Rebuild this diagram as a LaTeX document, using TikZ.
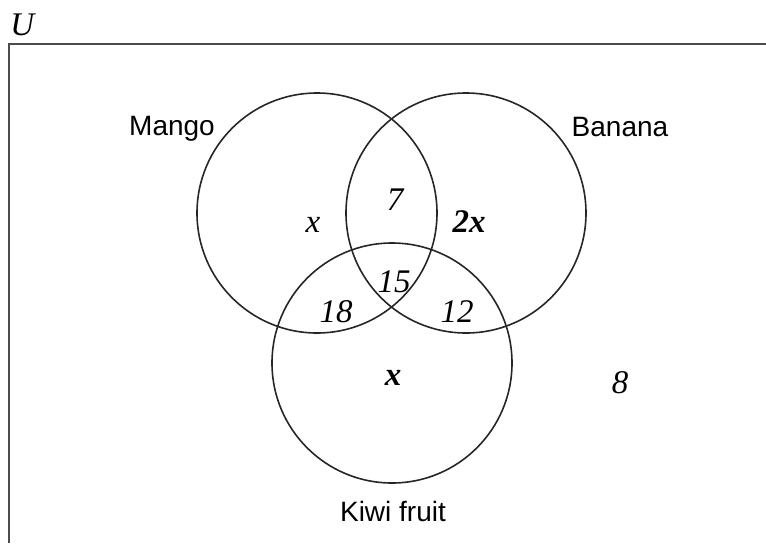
\documentclass[tikz,border=0pt]{standalone}
\usepackage{fontspec}
\setmainfont{Liberation Serif}
\setsansfont{Liberation Sans}
\usetikzlibrary{positioning}

\begin{document}
\begin{tikzpicture}[x=0.5pt, y=-0.5pt,
    setc/.style={draw, circle, minimum size=120pt, inner sep=0pt, line width=0.8pt, color=black!85},
    setlab/.style={font=\sffamily\fontsize{14}{16}\selectfont, anchor=base},
    val/.style={font=\itshape\fontsize{16.5}{19}\selectfont, anchor=base},
    bval/.style={font=\bfseries\itshape\fontsize{16.5}{19}\selectfont, anchor=base}]
  \useasboundingbox (0,0) rectangle (766,543);
  % universal set
  \coordinate (ul) at (9,44);
  \coordinate (ur) at (766,44);
  \coordinate (ll) at (9,543);
  \draw[line width=0.8pt, black!70] (ur) -- (ul) -- (ll);
  \node[val, anchor=base west, inner sep=0pt] (uname) at (10,35) {U};
  % the three sets
  \node[setc] (mango) at (317,213) {};
  \node[setc] (banana) at (466,213) {};
  \node[setc] (kiwi) at (392,363) {};
  \node[setlab] (mlab) at (172,135) {Mango};
  \node[setlab] (blab) at (620,136) {Banana};
  \node[setlab] (klab) at (393,521) {Kiwi fruit};
  % regions
  \node[val] (monly) at (313,232) {x};
  \node[val] (mb) at (395,210) {7};
  \node[bval] (bonly) at (469,232) {2x};
  \node[val] (mbk) at (394,292) {15};
  \node[val] (mk) at (336,322) {18};
  \node[val] (bk) at (457,322) {12};
  \node[bval] (konly) at (393,385) {x};
  \node[val] (none) at (620,393) {8};
\end{tikzpicture}
\end{document}
